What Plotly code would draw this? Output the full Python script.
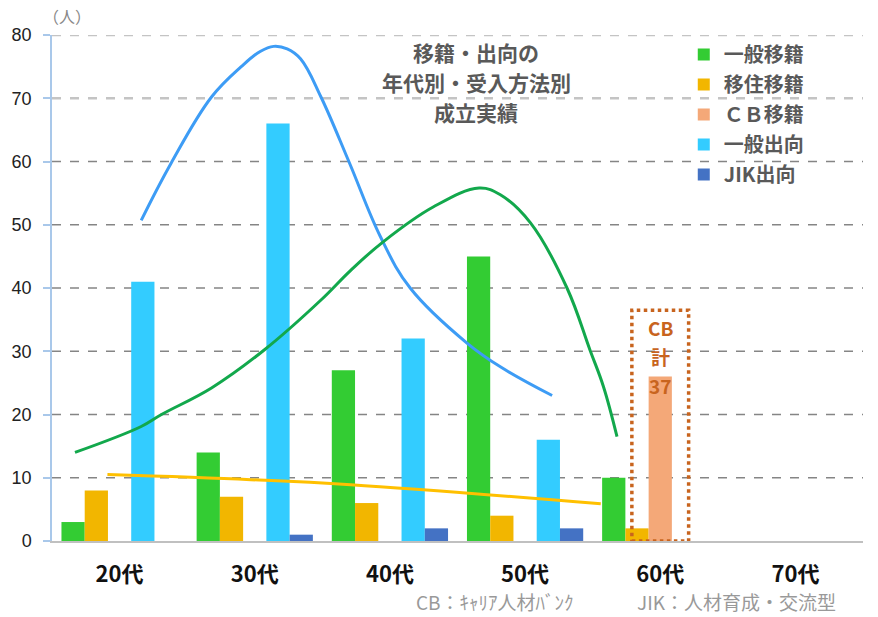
import plotly.graph_objects as go

# ---------------- data ----------------
ages = ["20代", "30代", "40代", "50代", "60代", "70代"]
general_transfer = [3, 14, 27, 45, 10, 0]      # 一般移籍
relocation_transfer = [8, 7, 6, 4, 2, 0]       # 移住移籍
cb_transfer = [0, 0, 0, 0, 26, 0]              # ＣＢ移籍
general_secondment = [41, 66, 32, 16, 0, 0]    # 一般出向
jik_secondment = [0, 1, 2, 2, 0, 0]            # JIK出向

# hand-drawn trend curves (x in category index units)
trend_blue_x = [0.16, 0.38, 0.68, 0.90, 1.04, 1.14, 1.24, 1.34, 1.49, 1.70, 1.93, 2.15, 2.57, 2.82, 3.20]
trend_blue_y = [50.7, 59.7, 70.2, 75.0, 77.4, 78.2, 77.8, 76.2, 70.2, 59.8, 48.1, 40.0, 31.3, 27.5, 23.0]
trend_green_x = [-0.33, 0.16, 0.31, 0.68, 1.07, 1.49, 1.71, 1.95, 2.32, 2.66, 2.82, 3.04, 3.31, 3.48, 3.58, 3.68]
trend_green_y = [14.0, 18.1, 20.0, 24.2, 30.2, 38.1, 42.8, 47.3, 52.8, 55.8, 54.7, 50.3, 40.0, 30.2, 24.4, 16.5]
trend_orange_x = [-0.09, 0.97, 1.71, 3.56]
trend_orange_y = [10.5, 9.7, 8.9, 5.9]

y_ticks = [0, 10, 20, 30, 40, 50, 60, 70, 80]
cb_total_label = ["CB", "計", "37"]

JP = "Noto Sans CJK JP"
xs = list(range(len(ages)))

series = [
    ("一般移籍", general_transfer, "#33cc33"),
    ("移住移籍", relocation_transfer, "#f2b600"),
    ("ＣＢ移籍", cb_transfer, "#f4a878"),
    ("一般出向", general_secondment, "#33ccff"),
    ("JIK出向", jik_secondment, "#4472c4"),
]

fig = go.Figure()
for i, (name, vals, col) in enumerate(series):
    fig.add_trace(go.Bar(
        x=xs, y=vals, name=name, marker=dict(color=col, line=dict(width=0)),
        legendgroup=f"g{i}",
    ))

for tx, ty, col in [(trend_blue_x, trend_blue_y, "#3d9cf5"),
                    (trend_green_x, trend_green_y, "#12a84c"),
                    (trend_orange_x, trend_orange_y, "#ffc000")]:
    fig.add_trace(go.Scatter(
        x=tx, y=ty, mode="lines", showlegend=False, hoverinfo="skip",
        line=dict(color=col, width=3, shape="spline", smoothing=1.1),
    ))

shapes = []
for v in y_ticks[1:]:
    light = v >= 70
    shapes.append(dict(
        type="line", xref="paper", yref="y", x0=0, x1=1, y0=v, y1=v,
        line=dict(color="#c4c4c4" if light else "#858585",
                  width=2.5 if light else 1.3, dash="dash"),
        layer="below",
    ))
# CB dotted box
shapes.append(dict(
    type="rect", xref="x", yref="y", x0=3.79, x1=4.21, y0=0, y1=36.5,
    line=dict(color="#c8641e", width=3.5, dash="dot"), layer="above",
))

annotations = []
# title
for i, t in enumerate(["移籍・出向の", "年代別・受入方法別", "成立実績"]):
    annotations.append(dict(
        xref="paper", yref="paper", x=0.523, y=0.967 - i * 0.06, text=t,
        showarrow=False, font=dict(family=JP, size=21, color="#595959", weight="bold"),
        xanchor="center", yanchor="middle",
    ))
# unit
annotations.append(dict(
    xref="paper", yref="paper", x=-0.014, y=1.038, text="（人）", showarrow=False,
    font=dict(family=JP, size=16, color="#888888"), xanchor="left", yanchor="middle",
))
# CB label
for i, t in enumerate(cb_total_label):
    annotations.append(dict(
        xref="x", yref="y", x=4.0, y=33.8 - i * 4.6, text=t, showarrow=False,
        font=dict(family=JP, size=19, color="#c8641e", weight="bold"),
        xanchor="center", yanchor="middle",
    ))
# footnotes
annotations.append(dict(
    xref="paper", yref="paper", x=(413 - 50) / 813, y=-0.119, text="CB：ｷｬﾘｱ人材ﾊﾞﾝｸ",
    showarrow=False, font=dict(family=JP, size=19, color="#999999"),
    xanchor="left", yanchor="middle",
))
annotations.append(dict(
    xref="paper", yref="paper", x=(634 - 50) / 813, y=-0.119, text="JIK：人材育成・交流型",
    showarrow=False, font=dict(family=JP, size=19, color="#999999"),
    xanchor="left", yanchor="middle",
))

fig.update_layout(
    width=878, height=617,
    margin=dict(l=50, r=15, t=35, b=76),
    paper_bgcolor="white", plot_bgcolor="white",
    barmode="group", bargap=0.14, bargroupgap=0,
    showlegend=True,
    legend=dict(
        x=0.779, y=1.0, xanchor="left", yanchor="top",
        font=dict(family=JP, size=20, color="#595959", weight="bold"),
        bgcolor="rgba(0,0,0,0)", tracegroupgap=1, itemwidth=30,
    ),
    shapes=shapes, annotations=annotations,
    xaxis=dict(
        range=[-0.5, 5.5], tickvals=xs, ticktext=ages, showgrid=False,
        zeroline=False, showline=True, linecolor="#c0c0c0", linewidth=1.5,
        ticks="", ticklabelstandoff=13,
        tickfont=dict(family=JP, size=22, color="#111111", weight="bold"),
    ),
    yaxis=dict(
        range=[0, 80], tickvals=y_ticks, showgrid=False, zeroline=False,
        showline=True, linecolor="#a9c8ea", linewidth=1.5,
        ticks="outside", ticklen=7, tickcolor="#a9c8ea", tickwidth=1.5,
        ticklabelstandoff=8,
        tickfont=dict(family="Liberation Sans", size=18, color="#222222"),
    ),
)

fig.write_html("out.html")
